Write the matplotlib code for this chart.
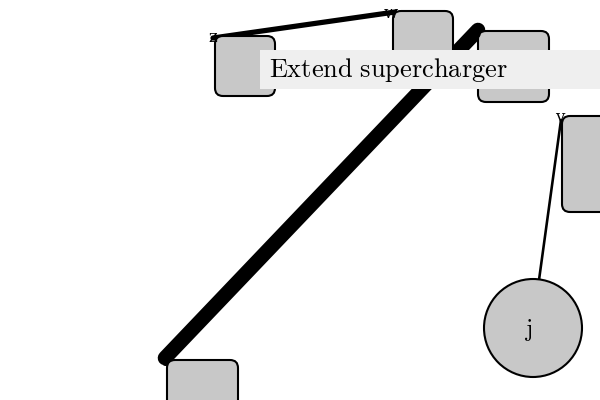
import matplotlib.pyplot as plt
from matplotlib.patches import FancyBboxPatch, Circle, Rectangle

plt.rcParams['mathtext.fontset'] = 'cm'

# node name, anchor x, anchor y, width, height (pixel space)
node_names = ["z", "w", "p", "v", "i"]
node_x = [215, 393, 478, 562, 167]
node_y = [36, 11, 31, 116, 360]
node_w = [60, 60, 71, 60, 71]
node_h = [60, 60, 71, 96, 60]

circle_name = "j"
circle_xy = (533, 328)
circle_r = 49

edges = [("z", "w", 5), ("p", "i", 14), ("v", "j", 2.5)]
edge_pts = {"z": (213, 38), "w": (395, 12), "p": (478, 30), "v": (561, 120),
            "i": (165, 358), "j": (539, 280)}

title = "Extend supercharger"

fig = plt.figure(figsize=(6, 4), dpi=100)
ax = fig.add_axes([0, 0, 1, 1])
ax.set_xlim(0, 600)
ax.set_ylim(400, 0)
ax.axis("off")

for a, b, lw in edges:
    (x1, y1), (x2, y2) = edge_pts[a], edge_pts[b]
    ax.plot([x1, x2], [y1, y2], color="black", lw=lw * 0.75,
            solid_capstyle="round", zorder=1)

for name, x, y, w, h in zip(node_names, node_x, node_y, node_w, node_h):
    ax.add_patch(FancyBboxPatch((x, y), w, h, boxstyle="round,pad=0,rounding_size=8",
                                fc="#c8c8c8", ec="black", lw=1.5, zorder=2))
    ax.text(x - 2, y + 2, name, fontsize=12, ha="center", va="center",
            fontfamily="DejaVu Serif", zorder=3)

ax.add_patch(Circle(circle_xy, circle_r, fc="#c8c8c8", ec="black", lw=1.5, zorder=2))
ax.text(circle_xy[0] - 5, circle_xy[1] + 2, "$\\mathrm{" + circle_name + "}$",
        fontsize=17, ha="center", va="center", zorder=3)

ax.add_patch(Rectangle((260, 50), 340, 39, fc="#efefef", ec="none", zorder=4))
ax.text(269, 70, "$\\mathrm{" + title.replace(" ", "\\ ") + "}$", fontsize=19,
        ha="left", va="center", zorder=5)

fig.savefig("out.png", dpi=100)
